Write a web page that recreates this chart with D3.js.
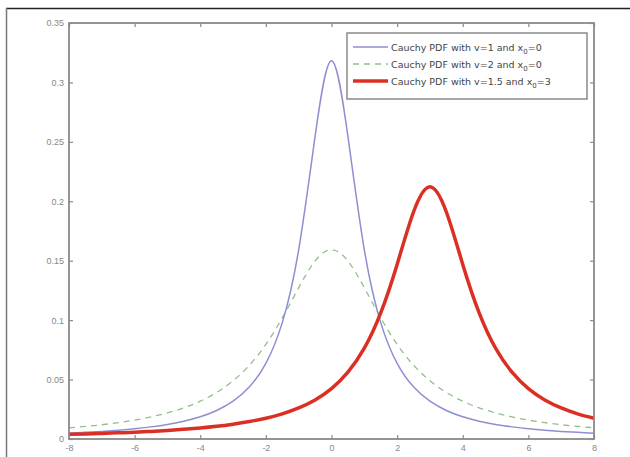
<!DOCTYPE html>
<html>
<head>
<meta charset="utf-8">
<script src="https://cdn.jsdelivr.net/npm/d3@7"></script>
<style>
  body { margin: 0; background: #fff; }
  svg { display: block; font-family: "DejaVu Sans", sans-serif; }
</style>
</head>
<body>
<div id="chart"></div>
<script>
// x positions shared by all three curves
var xs = [-8, -7.5, -7, -6.5, -6, -5.5, -5, -4.5, -4, -3.5, -3, -2.5, -2, -1.5, -1, -0.5,
          0, 0.5, 1, 1.5, 2, 2.5, 3, 3.5, 4, 4.5, 5, 5.5, 6, 6.5, 7, 7.5, 8];

// v=1, x0=0 (blue)
var blueVals = [0.0049, 0.0056, 0.0064, 0.0074, 0.0086, 0.0102, 0.0122, 0.0150, 0.0187, 0.0240, 0.0318, 0.0439, 0.0637, 0.0979, 0.1592, 0.2546,
                0.3183, 0.2546, 0.1592, 0.0979, 0.0637, 0.0439, 0.0318, 0.0240, 0.0187, 0.0150, 0.0122, 0.0102, 0.0086, 0.0074, 0.0064, 0.0056, 0.0049];

// v=2, x0=0 (green dashed)
var greenVals = [0.0094, 0.0106, 0.0120, 0.0138, 0.0159, 0.0186, 0.0220, 0.0262, 0.0318, 0.0392, 0.0490, 0.0621, 0.0796, 0.1019, 0.1273, 0.1498,
                 0.1592, 0.1498, 0.1273, 0.1019, 0.0796, 0.0621, 0.0490, 0.0392, 0.0318, 0.0262, 0.0220, 0.0186, 0.0159, 0.0138, 0.0120, 0.0106, 0.0094];

// v=1.5, x0=3 (red thick)
var redVals = [0.0039, 0.0042, 0.0047, 0.0052, 0.0057, 0.0064, 0.0072, 0.0082, 0.0093, 0.0107, 0.0125, 0.0147, 0.0175, 0.0212, 0.0262, 0.0329,
               0.0424, 0.0562, 0.0764, 0.1061, 0.1469, 0.1910, 0.2122, 0.1910, 0.1469, 0.1061, 0.0764, 0.0562, 0.0424, 0.0329, 0.0262, 0.0212, 0.0175];

var xTicks = [-8, -6, -4, -2, 0, 2, 4, 6, 8];
var yTicks = [0, 0.05, 0.1, 0.15, 0.2, 0.25, 0.3, 0.35];
var yTickLabels = ["0", "0.05", "0.1", "0.15", "0.2", "0.25", "0.3", "0.35"];

var legendNames = [
  ["Cauchy PDF with v=1 and x", "0", "=0"],
  ["Cauchy PDF with v=2 and x", "0", "=0"],
  ["Cauchy PDF with v=1.5 and x", "0", "=3"]
];

var width = 630, height = 457;
var margin = {left: 69, right: 36, top: 23, bottom: 18};
var w = width - margin.left - margin.right;
var h = height - margin.top - margin.bottom;
var axisColor = "#8a8a8a";

var svg = d3.select("#chart").append("svg")
    .attr("width", width)
    .attr("height", height);

// outer frame (top and left edges visible)
svg.append("line").attr("x1", 6).attr("x2", 630).attr("y1", 8.5).attr("y2", 8.5)
    .attr("stroke", "#222").attr("stroke-width", 1.5);
svg.append("line").attr("x1", 6.5).attr("x2", 6.5).attr("y1", 8).attr("y2", 457)
    .attr("stroke", "#777").attr("stroke-width", 1.5);

var g = svg.append("g")
    .attr("transform", "translate(" + margin.left + "," + margin.top + ")");

var x = d3.scaleLinear().domain([-8, 8]).range([0, w]);
var y = d3.scaleLinear().domain([0, 0.35]).range([h, 0]);

function styleAxis(sel) {
  sel.select(".domain").remove();
  sel.selectAll(".tick line").attr("stroke", axisColor).attr("stroke-width", 1.2);
  sel.selectAll(".tick text").attr("fill", "#888").style("font-size", "9px");
}

g.append("g")
    .attr("transform", "translate(0," + h + ")")
    .call(d3.axisBottom(x).tickValues(xTicks).tickSize(-4).tickPadding(6)
      .tickFormat(function(d) { return String(d); }))
    .call(styleAxis);
g.append("g")
    .call(d3.axisTop(x).tickValues(xTicks).tickSize(-4).tickFormat(""))
    .call(styleAxis);
g.append("g")
    .call(d3.axisLeft(y).tickValues(yTicks).tickSize(-4).tickPadding(5)
      .tickFormat(function(d, i) { return yTickLabels[i]; }))
    .call(styleAxis);
g.append("g")
    .attr("transform", "translate(" + w + ",0)")
    .call(d3.axisRight(y).tickValues(yTicks).tickSize(-4).tickFormat(""))
    .call(styleAxis);

// curves
var line = d3.line()
    .x(function(d) { return x(d[0]); })
    .y(function(d) { return y(d[1]); })
    .curve(d3.curveNatural);

function pairs(vals) { return xs.map(function(v, i) { return [v, vals[i]]; }); }

g.append("path").datum(pairs(greenVals))
    .attr("d", line).attr("fill", "none")
    .attr("stroke", "#8fbf8a").attr("stroke-width", 1.3)
    .attr("stroke-dasharray", "6,5");

g.append("path").datum(pairs(blueVals))
    .attr("d", line).attr("fill", "none")
    .attr("stroke", "#8e8ed2").attr("stroke-width", 1.5);

g.append("path").datum(pairs(redVals))
    .attr("d", line).attr("fill", "none")
    .attr("stroke", "#dc2f24").attr("stroke-width", 3.5);

// axes box
g.append("rect").attr("x", 0).attr("y", 0).attr("width", w).attr("height", h)
    .attr("fill", "none").attr("stroke", axisColor).attr("stroke-width", 1.8);

// legend
var legend = svg.append("g").attr("transform", "translate(347,33)");
legend.append("rect").attr("width", 240).attr("height", 66)
    .attr("fill", "#fff").attr("stroke", axisColor).attr("stroke-width", 1.5);

var legendStyles = [
  {color: "#8e8ed2", width: 1.5, dash: null},
  {color: "#8fbf8a", width: 1.3, dash: "6,5"},
  {color: "#dc2f24", width: 3.5, dash: null}
];

legendNames.forEach(function(name, i) {
  var ry = 14 + i * 17;
  var st = legendStyles[i];
  legend.append("line").attr("x1", 6).attr("x2", 41).attr("y1", ry).attr("y2", ry)
      .attr("stroke", st.color).attr("stroke-width", st.width)
      .attr("stroke-dasharray", st.dash);
  var t = legend.append("text").attr("x", 44).attr("y", ry + 3.5)
      .attr("fill", "#444").style("font-size", "9.5px");
  t.append("tspan").text(name[0]);
  t.append("tspan").attr("dy", 3).style("font-size", "7px").text(name[1]);
  t.append("tspan").attr("dy", -3).text(name[2]);
});
</script>
</body>
</html>
